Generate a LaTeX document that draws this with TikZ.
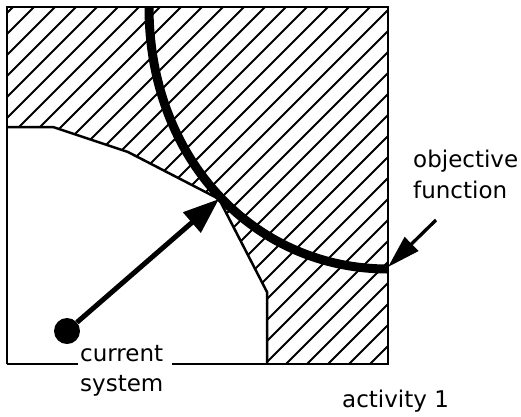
\documentclass[tikz,border=0pt]{standalone}
\usepackage{fontspec}
\setmainfont{DejaVu Sans}
\usetikzlibrary{arrows.meta}
\tikzset{
  hatchline/.style={line width=1.8pt},
  border/.style={line width=2.5pt, line join=miter},
  objcurve/.style={line width=9pt},
  bigarrow/.style={line width=5pt, -{Triangle[length=36pt,width=26pt]}},
  pointer/.style={line width=3.3pt, -{Triangle[length=33pt,width=19pt]}},
  lbl/.style={anchor=base west, inner sep=0pt, font=\fontsize{23}{27}\selectfont},
}
\begin{document}
\begin{tikzpicture}[x=1pt,y=-1pt]
\useasboundingbox (0,0) rectangle (521,416);
% hatched (infeasible) region
\begin{scope}
  \clip (7,7) -- (388,7) -- (388,364) -- (267,364) -- (267,292) -- (219,199)
        -- (128,152) -- (53,127) -- (7,127) -- cycle;
  \foreach \c in {20,41,...,780} {
    \draw[hatchline] (\c,0) -- (\c-420,420);
  }
\end{scope}
% feasible region boundary
\draw[border] (7,127) -- (53,127) -- (128,152) -- (219,199) -- (267,292) -- (267,364);
% frame
\draw[border] (7,364) -- (7,7) -- (388,7) -- (388,364) -- (172,364);
\draw[border] (7,364) -- (78,364);
% objective function curve
\coordinate (ctop) at (149,7);
\coordinate (cend) at (388,269);
\draw[objcurve] (ctop) .. controls (149,158) and (253,269) .. (cend);
% current system and move
\node[circle, fill=black, inner sep=0pt, minimum size=26pt] (dot) at (67,331) {};
\coordinate (tip) at (219,199);
\draw[bigarrow] (dot) -- (tip);
% pointer to objective function
\coordinate (ps) at (436,220);
\coordinate (pe) at (388,267);
\draw[pointer] (ps) -- (pe);
% labels
\node[lbl] (obj) at (413,167) {objective};
\node[lbl] (fun) at (413,198) {function};
\node[lbl] (cur) at (80,361) {current};
\node[lbl] (sys) at (80,391) {system};
\node[lbl] (act) at (342,407) {activity 1};
\end{tikzpicture}
\end{document}
